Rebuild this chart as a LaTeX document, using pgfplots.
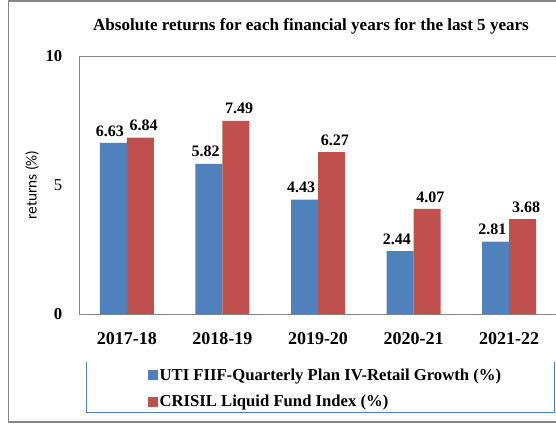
\documentclass[border=0pt]{standalone}
\usepackage{pgfplots}
\pgfplotsset{compat=1.18}
\usepackage{fontspec}
\setmainfont{Liberation Serif}
\newfontfamily\labelsans{Carlito}
\definecolor{barblue}{RGB}{79,129,189}
\definecolor{barred}{RGB}{192,80,77}
\definecolor{framegray}{RGB}{134,134,134}
\definecolor{axisgray}{RGB}{134,134,134}
\begin{document}
\begin{tikzpicture}
\path[use as bounding box] (0pt,0pt) rectangle (417pt,-318pt);
\clip (0pt,0pt) rectangle (417pt,-318pt);
\begin{axis}[
  at={(59.25pt,-235.5pt)}, anchor=south west,
  scale only axis, width=358.5pt, height=193.5pt,
  ybar=0pt, bar width=20.25pt,
  xmin=-0.5, xmax=4.5, ymin=0, ymax=10,
  xtick={0,1,2,3,4},
  xticklabels={2017-18,2018-19,2019-20,2020-21,2021-22},
  ytick={0,5,10},
  yticklabels={\textbf{0},5,\textbf{10}},
  /pgf/number format/assume math mode=true,
  /pgf/number format/fixed,
  /pgf/number format/fixed zerofill,
  /pgf/number format/precision=2,
  major tick length=0pt,
  axis line style={axisgray},
  xticklabel style={font=\fontsize{13.5}{15}\selectfont\bfseries, yshift=-10pt},
  yticklabel style={font=\fontsize{12.5}{14}\selectfont, xshift=-9pt},
  ylabel={returns (\%)},
  ylabel style={font=\labelsans\fontsize{11.5}{13}\selectfont, at={(axis description cs:-0.098,0.5)}, anchor=center},
  nodes near coords,
  every node near coord/.append style={font=\fontsize{12}{14}\selectfont\bfseries, color=black, yshift=1.5pt},
  legend style={at={(axis description cs:0.1444,-0.205)}, anchor=north west, draw=none, fill=none,
    font=\fontsize{12.5}{14}\selectfont\bfseries, row sep=8pt, inner sep=0pt,
    nodes={inner sep=1pt}},
  legend cell align=left,
  legend image code/.code={\fill[#1,draw=none] (0pt,-3.75pt) rectangle (7.5pt,3.75pt);},
]
\addplot[fill=barblue, draw=none, every node near coord/.append style={xshift=-2.5pt}] coordinates {(0,6.63) (1,5.82) (2,4.43) (3,2.44) (4,2.81)};
\addplot[fill=barred, draw=none, every node near coord/.append style={xshift=2.5pt}] coordinates {(0,6.84) (1,7.49) (2,6.27) (3,4.07) (4,3.68)};
\legend{UTI FIIF-Quarterly Plan IV-Retail Growth (\%), CRISIL Liquid Fund Index (\%)}
\end{axis}
\node[font=\fontsize{12.8}{15}\selectfont\bfseries] at (233.25pt,-19.5pt) {Absolute returns for each financial years for the last 5 years};
\draw[barblue, line width=0.75pt] (64.5pt,-271.5pt) -- (64.5pt,-309pt) -- (415.5pt,-309pt) -- (415.5pt,-271.5pt);
\draw[framegray, line width=2pt] (6pt,-0.75pt) -- (420pt,-0.75pt);
\draw[framegray, line width=2pt] (6pt,-316.5pt) -- (420pt,-316.5pt);
\draw[framegray, line width=0.75pt] (6pt,-0.75pt) -- (6pt,-316.5pt);
\end{tikzpicture}
\end{document}
